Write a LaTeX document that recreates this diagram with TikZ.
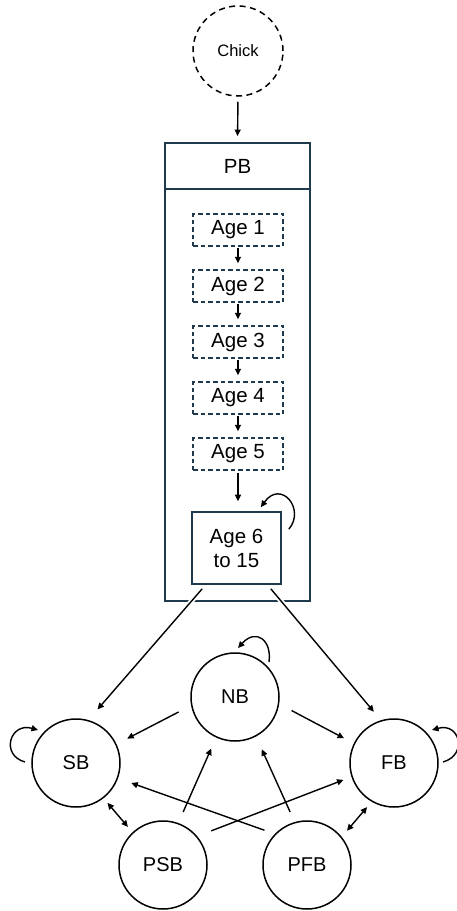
\documentclass[tikz,border=0pt]{standalone}
\usepackage{fontspec}
\setmainfont{Liberation Sans}
\usetikzlibrary{arrows.meta,calc}
\definecolor{slate}{HTML}{1F3A4C}
\begin{document}
\begin{tikzpicture}[x=1pt,y=-1pt,
  >={Triangle[length=6.5pt,width=6pt]},
  arr/.style={->,line width=1.4pt},
  darr/.style={<->,line width=1.4pt},
  state/.style={circle,draw,line width=1.5pt,minimum size=88pt,inner sep=0pt,font=\fontsize{20}{22}\selectfont},
  agebox/.style={rectangle,draw=slate,line width=1.5pt,dash pattern=on 4.5pt off 3pt,minimum width=90pt,minimum height=32pt,inner sep=0pt,font=\fontsize{20.5}{24}\selectfont},
  pbline/.style={draw=slate,line width=1.9pt},
  cut/.style={preaction={draw=white,line width=5pt,-}}
]
\useasboundingbox (0,0) rectangle (456,911);
% Chick
\node[circle,draw,line width=1.5pt,dash pattern=on 6pt off 4.5pt,minimum size=90pt,inner sep=0pt,font=\fontsize{16.5}{19}\selectfont] (chick) at (238,51) {Chick};
% PB container
\node[rectangle,pbline,minimum width=145pt,minimum height=458pt,inner sep=0pt] (pbbox) at (237.5,372) {};
\node[rectangle,pbline,minimum width=145pt,minimum height=46pt,inner sep=0pt,font=\fontsize{20.5}{24}\selectfont] (pb) at (237.5,166) {PB};
\draw[arr,shorten <=5pt,shorten >=6pt] (chick.south) -- (pb.north);
% Ages
\node[agebox] (a1) at (238,230) {Age 1};
\node[agebox] (a2) at (238,286) {Age 2};
\node[agebox] (a3) at (238,342) {Age 3};
\node[agebox] (a4) at (238,398) {Age 4};
\node[agebox] (a5) at (238,454) {Age 5};
\node[rectangle,draw=slate,line width=1.7pt,minimum width=89pt,minimum height=72pt,inner sep=0pt,align=center,font=\fontsize{20.5}{24}\selectfont] (a6) at (236.5,548) {Age 6\\to 15};
\draw[arr,shorten <=1pt,shorten >=6pt] (a1.south) -- (a2.north);
\draw[arr,shorten <=1pt,shorten >=6pt] (a2.south) -- (a3.north);
\draw[arr,shorten <=1pt,shorten >=6pt] (a3.south) -- (a4.north);
\draw[arr,shorten <=1pt,shorten >=6pt] (a4.south) -- (a5.north);
\draw[arr,shorten <=2pt,shorten >=10pt] (a5.south) -- (a5.south |- a6.north);
\draw[arr] ([shift={(7,18)}]a6.north east) .. controls +(17,-20) and +(20,-28) .. ([shift={(-21,-4)}]a6.north east);
% bottom states
\node[state] (sb) at (76,763) {SB};
\node[state] (nb) at (235,697) {NB};
\node[state] (fb) at (394,763) {FB};
\node[state] (psb) at (163,865) {PSB};
\node[state] (pfb) at (307,865) {PFB};
% from age 6
\draw[arr,cut,shorten >=14pt] ([shift={(11,4)}]a6.south west) -- (sb.74);
\draw[arr,cut,shorten >=11pt] ([shift={(-11,4)}]a6.south east) -- (fb.107);
% among states
\draw[arr,shorten <=14pt,shorten >=12pt] (nb.191) -- (sb.25);
\draw[arr,shorten <=14pt,shorten >=11pt] (nb.351) -- (fb.154);
\draw[arr,shorten <=12pt,shorten >=12pt] (psb.70) -- (nb.245);
\draw[arr,shorten <=11pt,shorten >=14pt] (pfb.106) -- (nb.298);
\draw[arr,shorten <=11pt,shorten >=14pt] (pfb.136.5) -- (sb.340);
\draw[arr,shorten <=15pt,shorten >=8.5pt] (psb.40) -- (fb.198);
\draw[darr,shorten <=6pt,shorten >=7pt] (sb.308.5) -- (psb.133.4);
\draw[darr,shorten <=7pt,shorten >=8pt] (fb.240.4) -- (pfb.39.5);
% self loops
\draw[arr] ([shift={(-51,-1)}]sb.center) .. controls +(-25,-7) and +(-28,-8) .. ([shift={(-38,-33)}]sb.center);
\draw[arr] ([shift={(49,-1)}]fb.center) .. controls +(25,-7) and +(28,-8) .. ([shift={(38,-33)}]fb.center);
\draw[arr] ([shift={(34,-35)}]nb.center) .. controls +(3,-22) and +(18,-20) .. ([shift={(3,-49)}]nb.center);
\end{tikzpicture}
\end{document}
